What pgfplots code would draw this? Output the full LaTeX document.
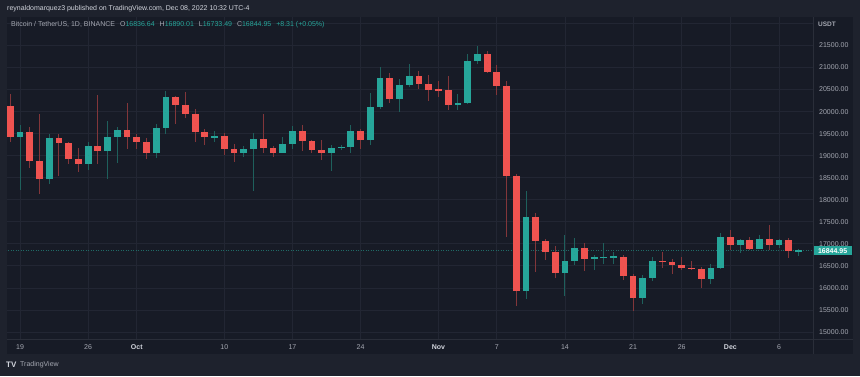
\documentclass[border=0pt]{standalone}
\usepackage{fontspec}
\setmainfont{Liberation Sans}
\usepackage{pgfplots}
\usepackage{pgfplotstable}
\pgfplotsset{compat=1.18}
\definecolor{outerbg}{HTML}{1E222D}
\definecolor{panelbg}{HTML}{171B26}
\definecolor{gridc}{HTML}{222633}
\definecolor{sepc}{HTML}{2A2E39}
\definecolor{txt}{HTML}{A5A8B2}
\definecolor{txtb}{HTML}{D1D4DC}
\definecolor{up}{HTML}{26A69A}
\definecolor{down}{HTML}{EF5350}
\definecolor{upw}{HTML}{1E605C}
\definecolor{downw}{HTML}{82363A}
\definecolor{pline}{HTML}{1F6B66}

\pgfplotstableread{
d O H L C
-1 20127 20402 19320 19419
0 19419 19689 18232 19544
1 19544 19644 18711 18876
2 18876 19956 18126 18461
3 18461 19500 18358 19402
4 19402 19500 18531 19289
5 19289 19316 18805 18920
6 18920 19180 18634 18803
7 18803 19316 18680 19222
8 19222 20385 18816 19110
9 19110 19790 18471 19426
10 19426 19645 18843 19573
11 19573 20185 19156 19431
12 19431 19484 19159 19312
13 19312 19395 18920 19056
14 19056 19719 18959 19629
15 19629 20475 19490 20337
16 20337 20365 19730 20158
17 20158 20456 19853 19955
18 19955 20058 19320 19531
19 19531 19616 19250 19417
20 19417 19558 19316 19446
21 19446 19525 19020 19141
22 19141 19264 18860 19051
23 19051 19226 18965 19157
24 19157 19513 18190 19382
25 19382 19951 19070 19176
26 19176 19227 18975 19069
27 19069 19425 19063 19263
28 19263 19676 19157 19550
29 19550 19706 19096 19334
30 19334 19360 19071 19139
31 19139 19347 18900 19053
32 19053 19250 18650 19172
33 19172 19248 19132 19208
34 19208 19695 19070 19567
35 19567 19601 19157 19345
36 19345 20415 19243 20095
37 20095 21020 20050 20772
38 20772 20877 20200 20292
39 20292 20750 20000 20595
40 20595 21085 20552 20818
41 20818 20929 20515 20635
42 20635 20840 20237 20495
43 20495 20700 20330 20485
44 20485 20800 20048 20160
45 20160 20393 20031 20207
46 20207 21302 20180 21148
47 21148 21480 21080 21299
48 21299 21365 20880 20905
49 20905 21069 20384 20591
50 20591 20700 17166 18547
51 18547 18587 15588 15922
52 15922 18199 15754 17601
53 17601 17695 16361 17070
54 17070 17119 16631 16812
55 16812 16954 16229 16330
56 16330 17190 15815 16619
57 16619 17134 16527 16900
58 16900 17015 16378 16663
59 16663 16751 16410 16692
60 16692 17011 16546 16700
61 16700 16820 16553 16703
62 16700 16753 16180 16280
63 16280 16319 15476 15781
64 15781 16300 15631 16226
65 16226 16708 16168 16603
66 16603 16812 16458 16598
67 16598 16666 16325 16522
68 16522 16701 16400 16458
69 16458 16600 16400 16428
70 16428 16483 16000 16212
71 16212 16548 16100 16442
72 16442 17249 16428 17163
73 17163 17320 16855 16977
74 16977 17105 16788 17092
75 17092 17159 16865 16885
76 16885 17202 16878 17105
77 17105 17424 16867 16966
78 16966 17107 16907 17088
79 17088 17142 16678 16836
80 16836.64 16890.01 16733.49 16844.95
}\candles

\pgfplotsset{candle/.style={only marks, mark=*, mark size=0pt,
  mark options={draw=none, fill=none}}}

\begin{document}
\begin{tikzpicture}[x=1pt,y=1pt]
\fill[outerbg] (0,0) rectangle (860,376);
\fill[panelbg] (7,22) rectangle (853,359);
\begin{axis}[at={(7pt,37pt)}, anchor=south west, scale only axis,
  width=806pt, height=322pt,
  xmin=-1.336, xmax=81.49, ymin=14841, ymax=22147,
  axis line style={draw=none}, major tick length=0pt,
  scaled y ticks=false, scaled x ticks=false,
  xtick={0,7,12,21,28,35,43,49,56,63,68,73,78},
  xticklabels={19,26,\textcolor{txtb}{\bfseries Oct},10,17,24,\textcolor{txtb}{\bfseries Nov},7,14,21,26,\textcolor{txtb}{\bfseries Dec},6},
  ytick={15000,15500,16000,16500,17000,17500,18000,18500,19000,19500,20000,20500,21000,21500,22000},
  yticklabels={15000.00,15500.00,16000.00,16500.00,17000.00,17500.00,18000.00,18500.00,19000.00,19500.00,20000.00,20500.00,21000.00,21500.00,{}},
  yticklabel pos=right,
  tick label style={font=\fontsize{7}{8}\selectfont, text=txt},
  xticklabel style={anchor=center, yshift=-8pt},
  yticklabel style={anchor=west, inner sep=0pt, xshift=6pt},
  xmajorgrids, ymajorgrids,
  major grid style={draw=gridc, line width=0.8pt},
]
\addplot[pline, dash pattern=on 1pt off 1.5pt, line width=0.7pt] coordinates {(-2,16844.95) (82,16844.95)};
% wicks
\addplot[candle, restrict expr to domain={\thisrow{C}-\thisrow{O}}{0:100000},
  error bars/.cd, y dir=both, y explicit, error mark=none,
  error bar style={draw=upw, line width=1pt}]
  table[x=d, y expr={(\thisrow{H}+\thisrow{L})/2}, y error expr={(\thisrow{H}-\thisrow{L})/2}] {\candles};
\addplot[candle, restrict expr to domain={\thisrow{C}-\thisrow{O}}{-100000:-0.001},
  error bars/.cd, y dir=both, y explicit, error mark=none,
  error bar style={draw=downw, line width=1pt}]
  table[x=d, y expr={(\thisrow{H}+\thisrow{L})/2}, y error expr={(\thisrow{H}-\thisrow{L})/2}] {\candles};
% bodies
\addplot[candle, restrict expr to domain={\thisrow{C}-\thisrow{O}}{0:100000},
  error bars/.cd, y dir=both, y explicit, error mark=none,
  error bar style={draw=up, line width=6.8pt}]
  table[x=d, y expr={(\thisrow{O}+\thisrow{C})/2}, y error expr={max(abs(\thisrow{C}-\thisrow{O})/2,14)}] {\candles};
\addplot[candle, restrict expr to domain={\thisrow{C}-\thisrow{O}}{-100000:-0.001},
  error bars/.cd, y dir=both, y explicit, error mark=none,
  error bar style={draw=down, line width=6.8pt}]
  table[x=d, y expr={(\thisrow{O}+\thisrow{C})/2}, y error expr={max(abs(\thisrow{C}-\thisrow{O})/2,14)}] {\candles};
\coordinate (pl) at (axis cs:81.49,16844.95);
\end{axis}
% separators
\draw[sepc, line width=0.8pt] (813,22) -- (813,359);
\draw[sepc, line width=0.8pt] (7,37) -- (853,37);
% price label
\node[fill=up, text=white, font=\fontsize{7}{8}\selectfont\bfseries, inner sep=0pt,
  minimum width=38pt, minimum height=9pt, anchor=west] at ([xshift=0.4pt]pl) {16844.95};
% texts
\node[anchor=west, inner sep=0pt, text=txtb, font=\fontsize{7}{8}\selectfont] at (7,367)
  {reynaldomarquez3 published on TradingView.com, Dec 08, 2022 10:32 UTC-4};
\node[anchor=west, inner sep=0pt, text=txt, font=\fontsize{7}{8}\selectfont] at (11,351)
  {Bitcoin / TetherUS, 1D, BINANCE\hspace{5pt}O\textcolor{up}{16836.64}\hspace{5pt}H\textcolor{up}{16890.01}\hspace{5pt}L\textcolor{up}{16733.49}\hspace{5pt}C\textcolor{up}{16844.95}\hspace{5pt}\textcolor{up}{+8.31 (+0.05\%)}};
\node[anchor=west, inner sep=0pt, text=txt, font=\fontsize{6.5}{8}\selectfont\bfseries] at (818,352) {USDT};
\node[anchor=west, inner sep=0pt, text=txtb, font=\fontsize{8}{9}\selectfont\bfseries] at (6,11) {TV};
\node[anchor=west, inner sep=0pt, text=txt, font=\fontsize{7}{8}\selectfont] at (20,11) {TradingView};
\pgfresetboundingbox
\path (0,0) rectangle (860,376);
\end{tikzpicture}
\end{document}
